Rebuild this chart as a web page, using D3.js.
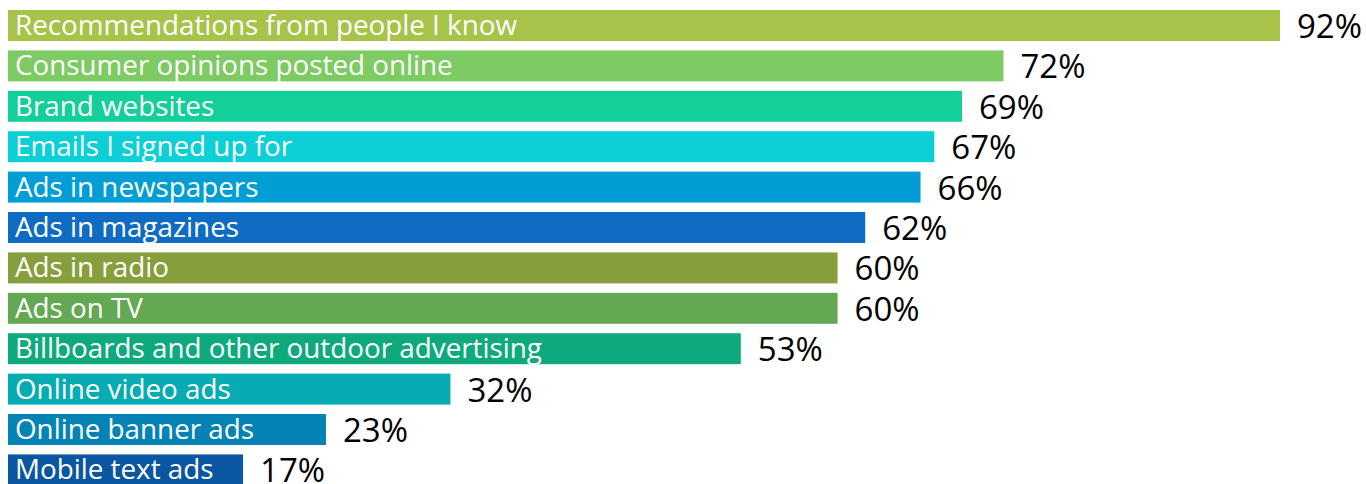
<!DOCTYPE html>
<html>
<head>
<meta charset="utf-8">
<script src="https://cdn.jsdelivr.net/npm/d3@7"></script>
<style>
  html, body { margin: 0; padding: 0; background: #ffffff; }
  svg { display: block; }
</style>
</head>
<body>
<div id="chart"></div>
<script>
const categories = [
  "Recommendations from people I know",
  "Consumer opinions posted online",
  "Brand websites",
  "Emails I signed up for",
  "Ads in newspapers",
  "Ads in magazines",
  "Ads in radio",
  "Ads on TV",
  "Billboards and other outdoor advertising",
  "Online video ads",
  "Online banner ads",
  "Mobile text ads"
];
const values = [92, 72, 69, 67, 66, 62, 60, 60, 53, 32, 23, 17];
const colors = [
  "#a8c34a", "#7dcb62", "#13cf9a", "#0cd0d6", "#019ed6", "#0f6cc2",
  "#879e3c", "#64a853", "#0eaa7e", "#07abb2", "#0683b5", "#0a56a0"
];

const width = 1366, height = 484;

const svg = d3.select("#chart").append("svg")
  .attr("width", width)
  .attr("height", height);

const x = d3.scaleLinear().domain([0, 92]).range([8, 1280]);
const y = d3.scaleBand()
  .domain(categories)
  .range([10, 485.4])
  .paddingInner(0.233)
  .paddingOuter(0);

const rows = svg.selectAll("g.row")
  .data(categories)
  .enter().append("g")
  .attr("class", "row");

rows.append("rect")
  .attr("x", x(0))
  .attr("y", d => y(d))
  .attr("width", (d, i) => x(values[i]) - x(0))
  .attr("height", y.bandwidth())
  .attr("fill", (d, i) => colors[i]);

rows.append("text")
  .attr("x", x(0) + 7)
  .attr("y", d => y(d) + 25)
  .attr("font-family", "'Open Sans', sans-serif")
  .attr("font-size", 27.8)
  .attr("fill", "#ffffff")
  .text(d => d);

rows.append("text")
  .attr("x", (d, i) => x(values[i]) + 17)
  .attr("y", d => y(d) + 28)
  .attr("font-family", "'Open Sans', sans-serif")
  .attr("font-size", 33)
  .attr("fill", "#000000")
  .text((d, i) => values[i] + "%");
</script>
</body>
</html>
